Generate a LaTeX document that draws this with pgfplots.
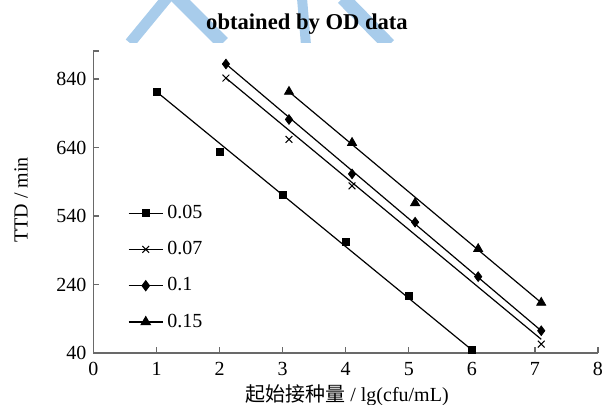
\documentclass[border=0pt]{standalone}
\usepackage{fontspec}
\setmainfont{Liberation Serif}
\newfontfamily\cjk{Noto Sans CJK SC}
\usepackage{pgfplots}
\pgfplotsset{compat=1.18}
\definecolor{wm}{RGB}{168,204,235}
\definecolor{axgray}{RGB}{105,105,105}
\begin{document}
\begin{tikzpicture}[font=\fontsize{10}{12}\selectfont]
\path[use as bounding box, x=0.5pt, y=-0.5pt, shift={(-46.75pt,176.5pt)}] (0,0) rectangle (606,405);
\begin{scope}[x=0.5pt, y=-0.5pt, shift={(-46.75pt,176.5pt)}]
  \clip (0,-20) rectangle (606,43);
  \draw[wm, line width=5.5pt] (130,43) -- (172,-8);
  \draw[wm, line width=7pt] (172,-8) -- (223,43);
  \draw[wm, line width=5pt] (302,-2) -- (306,45);
  \draw[wm, line width=7pt] (343,-2) -- (389,45);
\end{scope}
\begin{axis}[
  at={(0pt,0pt)}, anchor=south west,
  scale only axis, width=252.25pt, height=151pt,
  xmin=0, xmax=8, ymin=40, ymax=922,
  axis lines=left,
  axis line style={axgray, line width=0.7pt, -},
  tick style={axgray, line width=0.6pt},
  tick align=inside, major tick length=2.8pt,
  xtick={0,1,...,8},
  ytick={40,240,440,640,840},
  yticklabels={40,240,540,640,840},
  extra y ticks={922}, extra y tick labels={},
  /pgf/number format/assume math mode=true,
  xticklabel style={yshift=-1pt},
  clip=false,
  legend style={at={(axis description cs:0.056,0.518)}, anchor=north west,
    draw=none, fill=none, row sep=6pt, font=\fontsize{10}{12}\selectfont},
  legend cell align=left,
  legend image code/.code={\draw[sharp plot, mark repeat=2, mark phase=2, line width=0.6pt] plot coordinates {(0pt,0pt) (8.5pt,0pt) (17pt,0pt)};},
]
% fitted lines
\addplot[black, line width=0.6pt, forget plot] coordinates {(1,803) (6,49)};
\addplot[black, line width=0.6pt, forget plot] coordinates {(2.1,843) (7.1,80)};
\addplot[black, line width=0.6pt, forget plot] coordinates {(2.1,884) (7.1,105)};
\addplot[black, line width=0.6pt, forget plot] coordinates {(3.1,803) (7.1,187)};
% data points
\addplot[black, only marks, mark=square*, mark size=1.75pt, mark options={fill=black}]
  coordinates {(1,803) (2,628) (3,503) (4,363) (5,206) (6,49)};
\addplot[black, only marks, mark=x, mark size=2.4pt, mark options={line width=0.5pt}]
  coordinates {(2.1,843) (3.1,664) (4.1,528) (7.1,66)};
\addplot[black, only marks, mark=diamond*, mark size=2.4pt, mark options={fill=black}]
  coordinates {(2.1,884) (3.1,722) (4.1,563) (5.1,422) (6.1,263) (7.1,105)};
\addplot[black, only marks, mark=triangle*, mark size=2.6pt, mark options={fill=black}]
  coordinates {(3.1,803) (4.1,654) (5.1,478) (6.1,344) (7.1,187)};
\legend{0.05,0.07,0.1,0.15}
\end{axis}
\begin{scope}[x=0.5pt, y=-0.5pt, shift={(-46.75pt,176.5pt)}]
  \node[font=\bfseries\fontsize{11.3}{13}\selectfont] at (307,24) {obtained by OD data};
  \node[rotate=90] at (21,200) {TTD / min};
  \node at (347,395) {{\cjk 起始接种量} / lg(cfu/mL)};
\end{scope}
\end{tikzpicture}
\end{document}
